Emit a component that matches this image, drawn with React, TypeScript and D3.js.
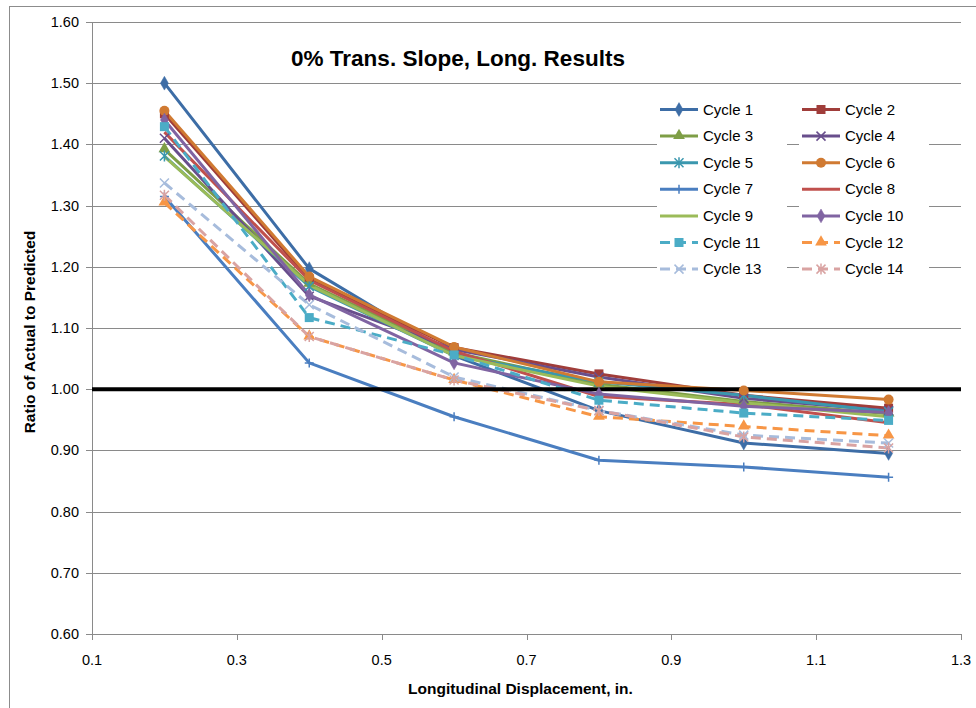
import React from "react";
import * as d3 from "d3";

const xValues = [0.2, 0.4, 0.6, 0.8, 1.0, 1.2];
const seriesNames = ["Cycle 1","Cycle 2","Cycle 3","Cycle 4","Cycle 5","Cycle 6","Cycle 7","Cycle 8","Cycle 9","Cycle 10","Cycle 11","Cycle 12","Cycle 13","Cycle 14"];
const c1 = [1.50, 1.197, 1.055, 0.965, 0.912, 0.895];
const c2 = [1.45, 1.18, 1.068, 1.025, 0.99, 0.969];
const c3 = [1.392, 1.172, 1.06, 1.008, 0.98, 0.96];
const c4 = [1.41, 1.152, 1.065, 1.02, 0.985, 0.965];
const c5 = [1.381, 1.168, 1.055, 1.012, 0.99, 0.963];
const c6 = [1.455, 1.184, 1.069, 1.012, 0.998, 0.983];
const c7 = [1.315, 1.043, 0.955, 0.884, 0.873, 0.856];
const c8 = [1.42, 1.178, 1.062, 0.988, 0.975, 0.945];
const c9 = [1.38, 1.17, 1.055, 1.005, 0.978, 0.955];
const c10 = [1.44, 1.154, 1.043, 0.992, 0.972, 0.962];
const c11 = [1.429, 1.117, 1.056, 0.982, 0.961, 0.949];
const c12 = [1.305, 1.086, 1.015, 0.955, 0.939, 0.924];
const c13 = [1.337, 1.138, 1.02, 0.965, 0.925, 0.912];
const c14 = [1.317, 1.086, 1.015, 0.965, 0.922, 0.904];
const seriesValues = [c1,c2,c3,c4,c5,c6,c7,c8,c9,c10,c11,c12,c13,c14];
const colors = ["#3D6DA6","#A03D3A","#7E9E46","#684E8C","#3A97AE","#D07A32","#4A7EC0","#C0504D","#9BBB59","#8064A2","#4BACC6","#F79646","#A7BCDC","#D9A3A2"];
const markers = ["diamond","square","triangle","x","star","circle","plus","none","none","diamond","square","triangle","x","star"];
const dashed = [false,false,false,false,false,false,false,false,false,false,true,true,true,true];
const xTicks = [0.1, 0.3, 0.5, 0.7, 0.9, 1.1, 1.3];
const yTicks = [0.6, 0.7, 0.8, 0.9, 1.0, 1.1, 1.2, 1.3, 1.4, 1.5, 1.6];
const refValue = 1.0;

const W = 976, H = 708;
const plot = { left: 92, right: 961, top: 22, bottom: 634 };

function Marker({ type, x, y, color }: { type: string; x: number; y: number; color: string }) {
  const s = 4.5;
  if (type === "none") return null;
  if (type === "diamond") {
    const p = d3.symbol(d3.symbolDiamond, 55)();
    return <path d={p as string} transform={`translate(${x},${y})`} fill={color} stroke={color} strokeWidth={0.5} />;
  }
  if (type === "square") return <rect x={x - s} y={y - s} width={2 * s} height={2 * s} fill={color} />;
  if (type === "triangle") {
    const p = d3.symbol(d3.symbolTriangle, 60)();
    return <path d={p as string} transform={`translate(${x},${y - 0.5})`} fill={color} />;
  }
  if (type === "circle") return <circle cx={x} cy={y} r={5} fill={color} />;
  if (type === "x") return <path d={`M${x - s},${y - s}L${x + s},${y + s}M${x - s},${y + s}L${x + s},${y - s}`} stroke={color} strokeWidth={1.5} fill="none" />;
  if (type === "star") return <path d={`M${x - s},${y - s}L${x + s},${y + s}M${x - s},${y + s}L${x + s},${y - s}M${x},${y - s - 1}L${x},${y + s + 1}`} stroke={color} strokeWidth={1.5} fill="none" />;
  if (type === "plus") return <path d={`M${x},${y - s}L${x},${y + s}M${x - s},${y}L${x + s},${y}`} stroke={color} strokeWidth={1.5} fill="none" />;
  return null;
}

export default function App() {
  const x = d3.scaleLinear().domain([0.1, 1.3]).range([plot.left, plot.right]);
  const y = d3.scaleLinear().domain([0.6, 1.6]).range([plot.bottom, plot.top]);
  const line = d3.line<number>().x((_, i) => x(xValues[i])).y((d) => y(d));
  const font = "'Liberation Sans', Arial, sans-serif";
  const legendX = [660, 802];
  const legendY0 = 109.5, legendDy = 26.6;

  return (
    <svg width={W} height={H} style={{ position: "absolute", left: 0, top: 0, background: "#fff" }} fontFamily={font}>
      <rect x={9.5} y={6.5} width={970} height={710} fill="#fff" stroke="#8c8c8c" strokeWidth={1} />
      {yTicks.map((t) => (
        <g key={"y" + t}>
          <line x1={plot.left - 6} x2={plot.right} y1={Math.round(y(t)) + 0.5} y2={Math.round(y(t)) + 0.5} stroke="#8a8a8a" strokeWidth={1} />
          <text x={79} y={y(t) + 5} textAnchor="end" fontSize={14.5} fill="#000">{t.toFixed(2)}</text>
        </g>
      ))}
      <line x1={plot.left + 0.5} x2={plot.left + 0.5} y1={plot.top} y2={plot.bottom} stroke="#8a8a8a" />
      {xTicks.map((t) => (
        <g key={"x" + t}>
          <line x1={Math.round(x(t)) + 0.5} x2={Math.round(x(t)) + 0.5} y1={plot.bottom} y2={plot.bottom + 6} stroke="#8a8a8a" />
          <text x={x(t)} y={665} textAnchor="middle" fontSize={14.5} fill="#000">{t.toFixed(1)}</text>
        </g>
      ))}
      {seriesValues.map((vals, i) => (
        <path key={"l" + i} d={line(vals) as string} fill="none" stroke={colors[i]} strokeWidth={3}
          strokeDasharray={dashed[i] ? "10,6" : undefined} strokeLinejoin="round" />
      ))}
      <line x1={plot.left} x2={plot.right} y1={y(refValue)} y2={y(refValue)} stroke="#000" strokeWidth={4} />
      {seriesValues.map((vals, i) => (
        <g key={"m" + i}>
          {vals.map((v, j) => <Marker key={j} type={markers[i]} x={x(xValues[j])} y={y(v)} color={colors[i]} />)}
        </g>
      ))}
      <text x={458} y={66} textAnchor="middle" fontSize={22.5} fontWeight="bold">0% Trans. Slope, Long. Results</text>
      <text x={(plot.left + plot.right) / 2 - 6} y={694} textAnchor="middle" fontSize={15.5} fontWeight="bold">Longitudinal Displacement, in.</text>
      <text transform={`translate(35,${(plot.top + plot.bottom) / 2 + 4}) rotate(-90)`} textAnchor="middle" fontSize={15.5} fontWeight="bold">Ratio of Actual to Predicted</text>
      {seriesNames.map((name, i) => {
        const col = i % 2, row = Math.floor(i / 2);
        const lx = legendX[col], ly = legendY0 + row * legendDy;
        return (
          <g key={"lg" + i}>
            <rect x={lx - 3} y={ly - 11} width={130} height={22} fill="#fff" />
            <line x1={lx} x2={lx + 38} y1={ly} y2={ly} stroke={colors[i]} strokeWidth={3} strokeDasharray={dashed[i] ? "10,6" : undefined} />
            <Marker type={markers[i]} x={lx + 19} y={ly} color={colors[i]} />
            <text x={lx + 43} y={ly + 5} fontSize={15} fill="#000">{name}</text>
          </g>
        );
      })}
    </svg>
  );
}
